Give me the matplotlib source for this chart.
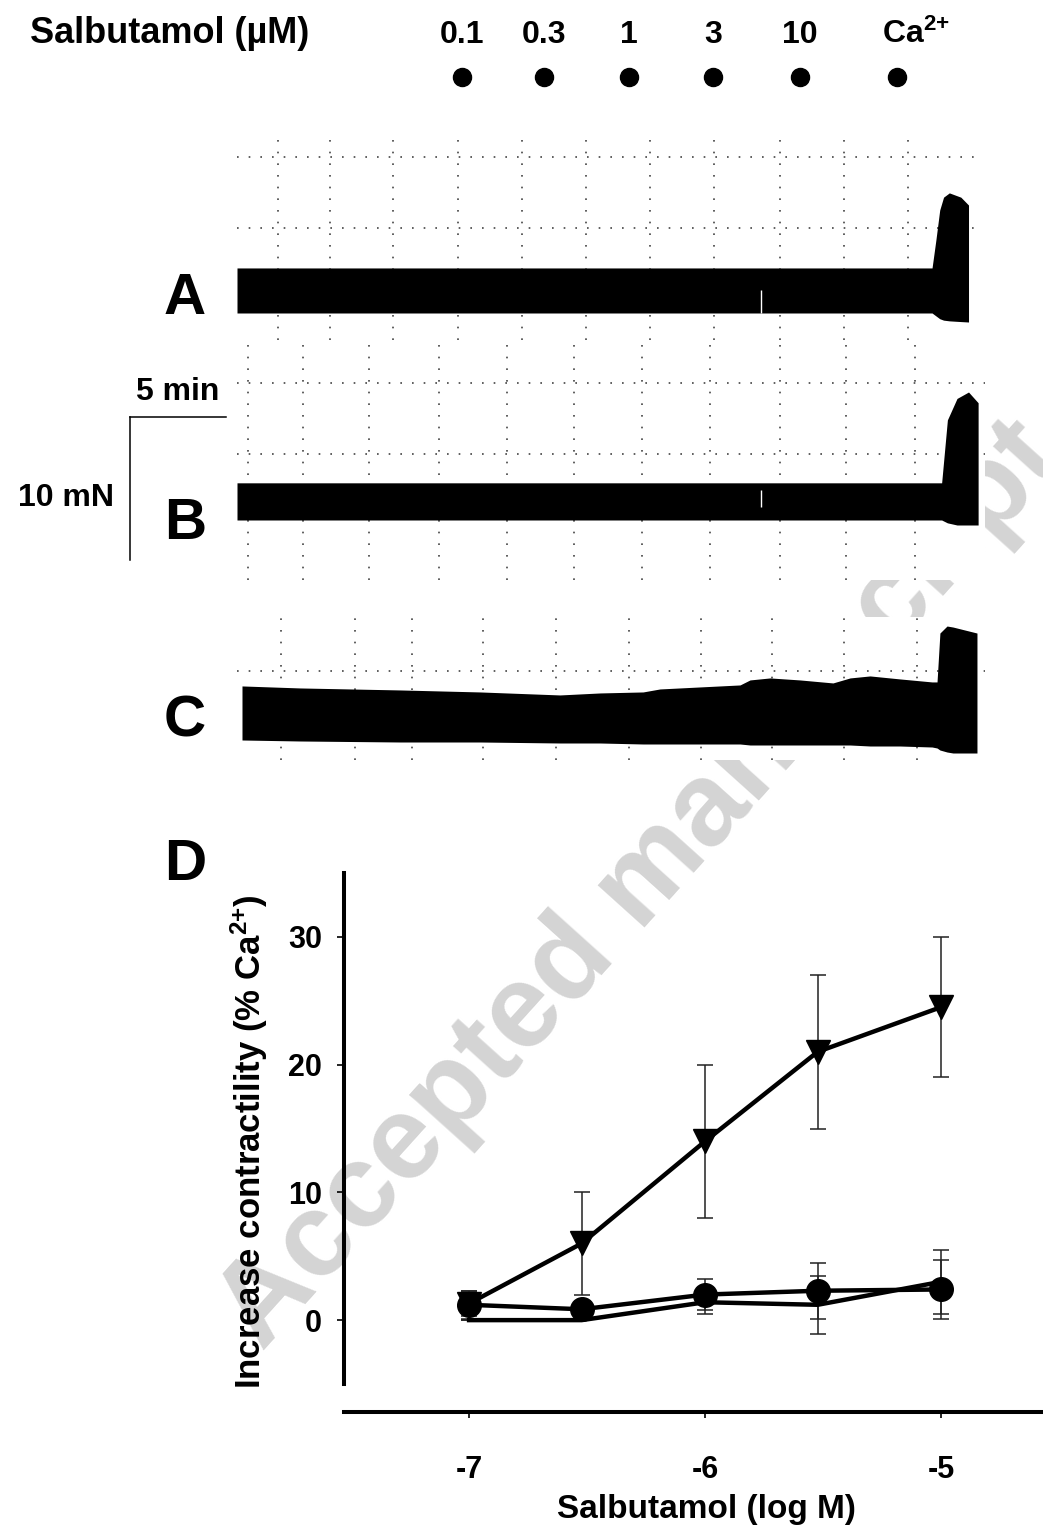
import numpy as np
import matplotlib
matplotlib.use('Agg')
import matplotlib.pyplot as plt

plt.rcParams['font.family'] = ['Liberation Sans', 'DejaVu Sans']
plt.rcParams['font.weight'] = 'bold'
plt.rcParams['axes.labelweight'] = 'bold'
plt.rcParams['mathtext.fontset'] = 'custom'
plt.rcParams['mathtext.rm'] = 'Liberation Sans:bold'
plt.rcParams['mathtext.it'] = 'Liberation Sans:bold'
plt.rcParams['mathtext.bf'] = 'Liberation Sans:bold'
plt.rcParams['mathtext.default'] = 'rm'
plt.rcParams['axes.unicode_minus'] = False

# --- data ------------------------------------------------------------------
# salbutamol additions (min from start of recording)
dose_labels = ['0.1', '0.3', '1', '3', '10', 'Ca$^{2{+}}$']
dose_times = [11.7, 16.0, 20.4, 24.8, 29.3, 34.4]

# isometric recordings: time (min), upper / lower envelope (mN)
A_t = [0, 8.2, 18.9, 36.2, 36.4, 36.6, 36.8, 37.1, 37.7, 38.1]
A_upper = [3.15, 3.15, 3.15, 3.15, 5.1, 7.2, 8.1, 8.4, 8.1, 7.55]
A_lower = [0, 0, 0, 0, -0.2, -0.4, -0.5, -0.55, -0.6, -0.63]

B_t = [0, 18.9, 36.7, 37.0, 37.5, 38.1, 38.6]
B_upper = [2.6, 2.6, 2.6, 7.0, 8.5, 8.95, 8.2]
B_lower = [0, 0, 0, -0.2, -0.35, -0.35, -0.35]

C_t = [0.26, 3.28, 8.49, 12.66, 16.82, 18.91, 21.15, 22.03, 26.2, 26.72, 27.76,
       29.32, 31.04, 31.93, 32.97, 34.53, 36.2, 36.46, 36.61, 36.98, 37.29, 38.54]
C_upper = [3.78, 3.64, 3.5, 3.36, 3.15, 3.29, 3.36, 3.57, 3.85, 4.2, 4.34,
           4.2, 3.99, 4.34, 4.48, 4.27, 4.06, 4.06, 7.48, 7.97, 7.9, 7.48]
C_lower = [0, -0.07, -0.14, -0.14, -0.21, -0.21, -0.28, -0.28, -0.28, -0.35, -0.35,
           -0.35, -0.35, -0.35, -0.42, -0.42, -0.49, -0.56, -0.7, -0.84, -0.91, -0.91]

# short artefacts (white slits) in A and B: time, bottom, top (mN)
A_slit = [27.3, 0.0, 1.6]
B_slit = [27.3, 0.9, 2.1]

# chart paper grid (min / mN)
A_grid_t = [2.12, 4.84, 8.14, 11.5, 14.86, 18.18, 21.51, 24.84, 28.28, 31.61, 34.95]
A_grid_y = [5.94, 10.91]
B_grid_t = [0.55, 3.42, 6.88, 10.52, 14.06, 17.53, 21.09, 24.66, 28.26, 31.74, 35.29]
B_grid_y = [4.62, 9.58]
C_grid_t = [2.29, 6.15, 9.11, 12.81, 16.61, 20.42, 24.17, 27.86, 31.61, 35.42]
C_grid_y = [4.83]

scale_min = 5
scale_mN = 10

# concentration-response (D)
log_conc = [-7, -6.523, -6, -5.523, -5]
tri_mean = [1.3, 6.0, 14.0, 21.0, 24.5]
tri_sem = [1.0, 4.0, 6.0, 6.0, 5.5]
circ_mean = [1.2, 0.85, 2.0, 2.3, 2.4]
circ_sem = [1.1, 0.3, 1.2, 2.2, 2.3]
line_mean = [0.0, 0.0, 1.4, 1.2, 3.0]
line_sem = [0.0, 0.0, 0.9, 2.25, 2.5]

xticks = [-7, -6, -5]
xtick_labels = ['-7', '-6', '-5']
yticks = [0, 10, 20, 30]

# --- layout ----------------------------------------------------------------
W, H = 1043, 1530
PX_MIN = 19.2   # px per minute
PX_MN = 14.3    # px per mN
T0 = 237        # px of t = 0


def box(l, t, r, b):
    return [l / W, 1 - b / H, (r - l) / W, (b - t) / H]


def ftext(x, y, s, **kw):
    fig.text(x / W, 1 - y / H, s, **kw)


fig = plt.figure(figsize=(W / 100, H / 100), dpi=100)

# watermark
ftext(262, 1352, 'Accepted manuscript', rotation=48, rotation_mode='anchor',
      ha='left', va='baseline', fontsize=85, color='#d4d4d4', zorder=-1)


def trace_axes(l, t, r, b, ref):
    ax = fig.add_axes(box(l, t, r, b))
    ax.set_xlim((l - T0) / PX_MIN, (r - T0) / PX_MIN)
    ax.set_ylim((ref - b) / PX_MN, (ref - t) / PX_MN)
    for s in ax.spines.values():
        s.set_visible(False)
    ax.tick_params(length=0, labelbottom=False, labelleft=False)
    ax.set_axisbelow(True)
    ax.grid(True, color='#444444', linestyle=(0, (1, 6)), linewidth=1.2)
    ax.set_facecolor('white')
    return ax


axA = trace_axes(237, 137, 980, 340, 313)
axA.set_xticks(A_grid_t)
axA.set_yticks(A_grid_y)
axA.fill_between(A_t, A_lower, A_upper, color='black', lw=0)
axA.vlines(A_slit[0], A_slit[1], A_slit[2], color='white', lw=1)

axB = trace_axes(237, 340, 985, 580, 520)
axB.set_xticks(B_grid_t)
axB.set_yticks(B_grid_y)
axB.fill_between(B_t, B_lower, B_upper, color='black', lw=0)
axB.vlines(B_slit[0], B_slit[1], B_slit[2], color='white', lw=1)

axC = trace_axes(237, 617, 985, 760, 740)
axC.set_xticks(C_grid_t)
axC.set_yticks(C_grid_y)
axC.fill_between(C_t, C_lower, C_upper, color='black', lw=0)

# scale bar (drawn in B's data units)
sx = (130 - T0) / PX_MIN
sy = (520 - 417) / PX_MN
axB.plot([sx, sx + scale_min], [sy, sy], color='black', lw=1.1, clip_on=False)
axB.plot([sx, sx], [sy, sy - scale_mN], color='black', lw=1.1, clip_on=False)
ftext(178, 400, '%d min' % scale_min, ha='center', va='baseline', fontsize=23)
ftext(114, 506, '%d mN' % scale_mN, ha='right', va='baseline', fontsize=23)

# header with additions
axH = fig.add_axes(box(237, 0, 980, 100))
axH.set_xlim(0, (980 - T0) / PX_MIN)
axH.set_ylim(100, 0)
axH.axis('off')
axH.plot(dose_times, [77] * len(dose_times), 'o', color='black', ms=13)
for tt, lab in zip(dose_times, dose_labels):
    off = 0.95 if lab.startswith('Ca') else 0
    axH.text(tt + off, 43, lab, ha='center', va='baseline', fontsize=23)
ftext(30, 43, 'Salbutamol (\u00b5M)', ha='left', va='baseline', fontsize=26)

# panel letters
for lab, yb in [('A', 314), ('B', 539), ('C', 736), ('D', 880)]:
    ftext(164, yb, lab, ha='left', va='baseline', fontsize=42)

# --- D: concentration-response --------------------------------------------
axD = fig.add_axes(box(344, 873, 1043, 1384))
axD.set_facecolor('none')
axD.set_xlim(-7.53, -4.568)
axD.set_ylim(-5, 35)
axD.spines['top'].set_visible(False)
axD.spines['right'].set_visible(False)
axD.spines['left'].set_linewidth(2.9)
axD.spines['bottom'].set_linewidth(2.9)
axD.spines['bottom'].set_position(('outward', 20))

err_kw = dict(fmt='none', ecolor='#222222', elinewidth=1.1, capsize=5.5,
              capthick=1.1, zorder=2)
axD.errorbar(log_conc, line_mean, yerr=line_sem, **err_kw)
axD.errorbar(log_conc, circ_mean, yerr=circ_sem, **err_kw)
axD.errorbar(log_conc, tri_mean, yerr=tri_sem, **err_kw)

axD.plot(log_conc, line_mean, '-', color='black', lw=3.2, zorder=3,
         solid_joinstyle='miter')
axD.plot(log_conc, tri_mean, '-v', color='black', lw=3.2, ms=17, zorder=4)
axD.plot(log_conc, circ_mean, '-o', color='black', lw=3.2, ms=17, zorder=5)

axD.set_xticks(xticks)
axD.set_xticklabels(xtick_labels)
axD.set_yticks(yticks)
axD.tick_params(axis='x', length=4, width=1.2, pad=27, labelsize=22)
axD.tick_params(axis='y', length=5, width=1.2, pad=11, labelsize=22)
axD.set_xlabel('Salbutamol (log M)', fontsize=24)
axD.xaxis.set_label_coords((706 - 344) / (1043 - 344), -(1494 - 1384) / (1384 - 873))
axD.set_ylabel('Increase contractility (% Ca$^{2{+}}$)', fontsize=25)
axD.yaxis.set_label_coords(-(344 - 270) / (1043 - 344), (1384 - 1142) / (1384 - 873))

fig.savefig('out.png', dpi=100)
